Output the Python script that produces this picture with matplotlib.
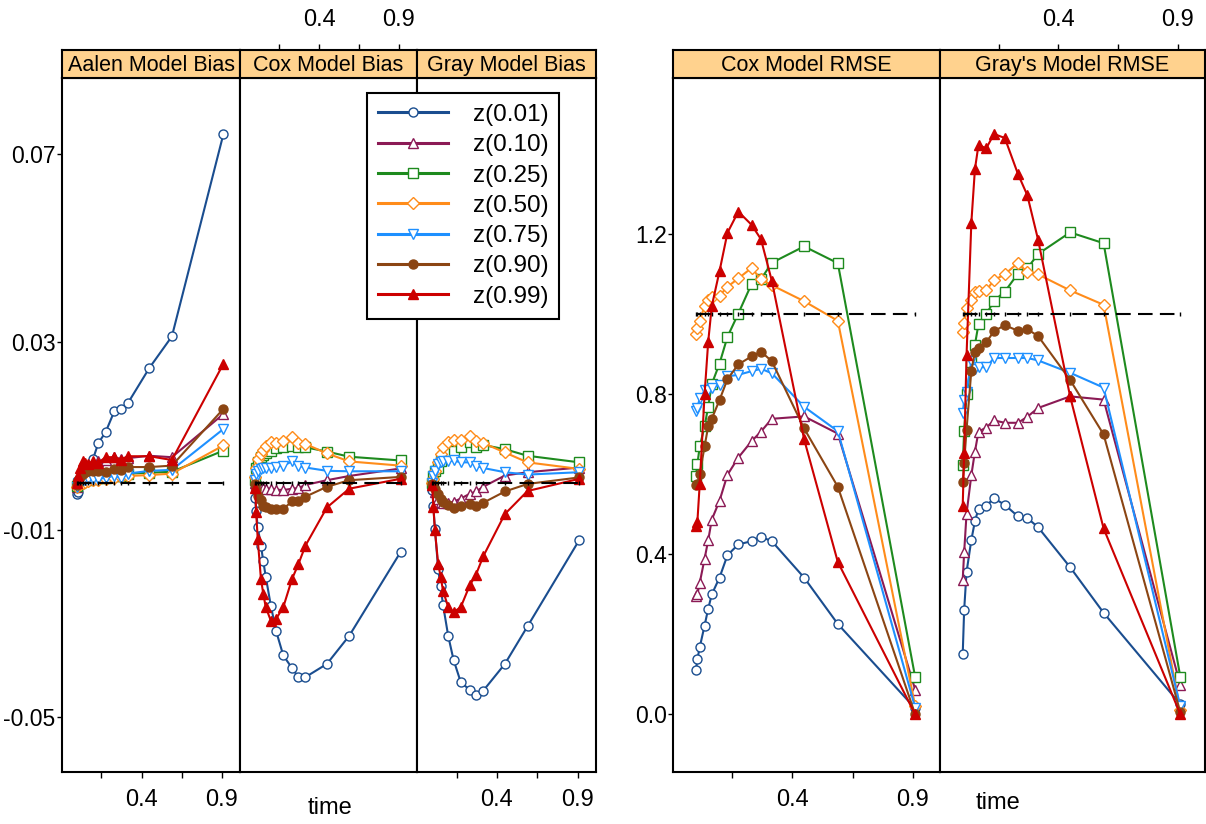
import numpy as np
import matplotlib
matplotlib.use('Agg')
import matplotlib.pyplot as plt
from matplotlib.lines import Line2D

plt.rcParams['font.family'] = ['Liberation Sans', 'DejaVu Sans']

W, H = 1206, 824

# time grid shared by every panel
time = [0.0, 0.006, 0.016, 0.036, 0.051, 0.066, 0.098, 0.131, 0.176, 0.231, 0.27, 0.315, 0.449, 0.589, 0.91]

labels = ['z(0.01)', 'z(0.10)', 'z(0.25)', 'z(0.50)', 'z(0.75)', 'z(0.90)', 'z(0.99)']
colors = ['#1A4D8F', '#8B1A55', '#1E8A1E', '#FF8C1A', '#1E90FF', '#8B4513', '#CC0000']
markers = ['o', '^', 's', 'D', 'v', 'o', '^']
filled = [False, False, False, False, False, True, True]

# rows: z(0.01), z(0.10), z(0.25), z(0.50), z(0.75), z(0.90), z(0.99)
aalen_bias = [
    [-0.0024, -0.0020, -0.0005, 0.0010, 0.0025, 0.0035, 0.0050, 0.0084, 0.0107, 0.0152, 0.0157, 0.0169, 0.0244, 0.0311, 0.0742],
    [-0.0010, 0.0005, 0.0015, 0.0025, 0.0030, 0.0035, 0.0040, 0.0045, 0.0048, 0.0054, 0.0050, 0.0052, 0.0057, 0.0054, 0.0146],
    [-0.0008, -0.0003, 0.0000, 0.0003, 0.0005, 0.0006, 0.0008, 0.0009, 0.0010, 0.0013, 0.0015, 0.0019, 0.0021, 0.0023, 0.0068],
    [-0.0010, -0.0006, -0.0003, 0.0000, 0.0002, 0.0003, 0.0005, 0.0006, 0.0007, 0.0010, 0.0012, 0.0014, 0.0016, 0.0019, 0.0079],
    [-0.0010, 0.0000, 0.0003, 0.0005, 0.0006, 0.0007, 0.0008, 0.0008, 0.0010, 0.0015, 0.0010, 0.0019, 0.0025, 0.0027, 0.0114],
    [-0.0005, 0.0005, 0.0012, 0.0018, 0.0022, 0.0024, 0.0025, 0.0024, 0.0023, 0.0029, 0.0027, 0.0033, 0.0033, 0.0036, 0.0157],
    [0.0000, 0.0015, 0.0030, 0.0045, 0.0042, 0.0040, 0.0045, 0.0042, 0.0054, 0.0054, 0.0049, 0.0056, 0.0056, 0.0048, 0.0253],
]
cox_bias = [
    [-0.0033, -0.0060, -0.0095, -0.0134, -0.0168, -0.0200, -0.0262, -0.0316, -0.0368, -0.0395, -0.0414, -0.0414, -0.0386, -0.0326, -0.0148],
    [-0.0002, -0.0006, -0.0009, -0.0011, -0.0012, -0.0013, -0.0013, -0.0015, -0.0016, -0.0013, -0.0012, -0.0005, 0.0005, 0.0014, 0.0030],
    [0.0005, 0.0030, 0.0043, 0.0054, 0.0058, 0.0062, 0.0068, 0.0073, 0.0075, 0.0077, 0.0076, 0.0075, 0.0066, 0.0055, 0.0047],
    [0.0011, 0.0030, 0.0050, 0.0061, 0.0069, 0.0078, 0.0086, 0.0084, 0.0088, 0.0096, 0.0084, 0.0082, 0.0062, 0.0045, 0.0036],
    [0.0006, 0.0018, 0.0025, 0.0029, 0.0031, 0.0032, 0.0032, 0.0034, 0.0036, 0.0045, 0.0036, 0.0032, 0.0025, 0.0024, 0.0024],
    [-0.0003, -0.0015, -0.0028, -0.0038, -0.0049, -0.0053, -0.0056, -0.0056, -0.0056, -0.0040, -0.0040, -0.0030, -0.0009, 0.0005, 0.0012],
    [-0.0011, -0.0063, -0.0120, -0.0205, -0.0237, -0.0265, -0.0294, -0.0290, -0.0265, -0.0205, -0.0174, -0.0134, -0.0053, -0.0013, 0.0008],
]
gray_bias = [
    [-0.0015, -0.0049, -0.0099, -0.0184, -0.0221, -0.0260, -0.0326, -0.0377, -0.0425, -0.0441, -0.0452, -0.0443, -0.0386, -0.0306, -0.0122],
    [-0.0002, -0.0006, -0.0020, -0.0034, -0.0041, -0.0044, -0.0044, -0.0041, -0.0034, -0.0024, -0.0019, -0.0009, 0.0015, 0.0022, 0.0032],
    [0.0000, 0.0015, 0.0025, 0.0032, 0.0045, 0.0057, 0.0062, 0.0068, 0.0075, 0.0086, 0.0075, 0.0080, 0.0071, 0.0057, 0.0043],
    [0.0000, 0.0008, 0.0025, 0.0043, 0.0061, 0.0075, 0.0086, 0.0090, 0.0091, 0.0100, 0.0088, 0.0084, 0.0064, 0.0043, 0.0029],
    [0.0000, 0.0015, 0.0025, 0.0040, 0.0043, 0.0045, 0.0045, 0.0047, 0.0043, 0.0043, 0.0036, 0.0031, 0.0022, 0.0017, 0.0022],
    [-0.0003, -0.0008, -0.0014, -0.0024, -0.0034, -0.0041, -0.0048, -0.0054, -0.0050, -0.0045, -0.0050, -0.0043, -0.0019, -0.0003, 0.0011],
    [-0.0005, -0.0051, -0.0102, -0.0173, -0.0200, -0.0230, -0.0265, -0.0276, -0.0265, -0.0219, -0.0196, -0.0157, -0.0067, -0.0018, 0.0008],
]
cox_rmse = [
    [0.110, 0.138, 0.168, 0.222, 0.264, 0.300, 0.342, 0.398, 0.425, 0.433, 0.444, 0.433, 0.342, 0.226, 0.015],
    [0.295, 0.300, 0.329, 0.389, 0.435, 0.487, 0.534, 0.599, 0.642, 0.683, 0.707, 0.739, 0.745, 0.702, 0.062],
    [0.596, 0.625, 0.670, 0.720, 0.769, 0.826, 0.877, 0.944, 1.002, 1.076, 1.088, 1.129, 1.170, 1.128, 0.093],
    [0.952, 0.967, 0.984, 1.021, 1.036, 1.043, 1.047, 1.069, 1.090, 1.116, 1.088, 1.073, 1.033, 0.984, 0.021],
    [0.758, 0.767, 0.790, 0.810, 0.812, 0.817, 0.823, 0.845, 0.849, 0.858, 0.864, 0.853, 0.769, 0.708, 0.017],
    [0.573, 0.577, 0.600, 0.670, 0.720, 0.739, 0.786, 0.838, 0.875, 0.895, 0.907, 0.883, 0.715, 0.569, 0.000],
    [0.470, 0.480, 0.577, 0.800, 0.931, 1.021, 1.108, 1.204, 1.257, 1.224, 1.188, 1.084, 0.688, 0.381, 0.000],
]
gray_rmse = [
    [0.151, 0.261, 0.356, 0.436, 0.483, 0.514, 0.522, 0.540, 0.524, 0.495, 0.491, 0.468, 0.368, 0.254, 0.025],
    [0.337, 0.405, 0.502, 0.598, 0.657, 0.707, 0.717, 0.735, 0.729, 0.729, 0.744, 0.766, 0.795, 0.787, 0.073],
    [0.624, 0.709, 0.800, 0.880, 0.924, 0.976, 1.000, 1.034, 1.057, 1.102, 1.115, 1.151, 1.205, 1.178, 0.093],
    [0.956, 0.978, 1.015, 1.037, 1.055, 1.058, 1.060, 1.086, 1.100, 1.129, 1.105, 1.100, 1.060, 1.024, 0.010],
    [0.754, 0.785, 0.807, 0.883, 0.863, 0.868, 0.868, 0.891, 0.891, 0.891, 0.891, 0.885, 0.854, 0.817, 0.020],
    [0.581, 0.629, 0.712, 0.859, 0.907, 0.917, 0.930, 0.958, 0.973, 0.959, 0.963, 0.946, 0.836, 0.700, 0.005],
    [0.522, 0.654, 0.898, 1.229, 1.363, 1.424, 1.415, 1.451, 1.441, 1.351, 1.298, 1.187, 0.795, 0.465, 0.000],
]

xticks = [0.15, 0.4, 0.65, 0.9]
xticklabels = ['', '0.4', '', '0.9']
bias_yticks = [-0.05, -0.01, 0.03, 0.07]
bias_yticklabels = ['-0.05', '-0.01', '0.03', '0.07']
rmse_yticks = [0.0, 0.4, 0.8, 1.2]
rmse_yticklabels = ['0.0', '0.4', '0.8', '1.2']
xlim = (-0.095, 1.013)
bias_ylim = (-0.0616, 0.0861)
rmse_ylim = (-0.144, 1.591)
strip_col = '#FFD28E'


def rect(l, t, r, b):
    return [l / W, 1 - b / H, (r - l) / W, (b - t) / H]


fig = plt.figure(figsize=(W / 100, H / 100), dpi=100)

# title, data, left px, right px, ylim, ref line, yticks, ytick labels, x axis side
panels = [
    ('Aalen Model Bias', aalen_bias, 62, 240, bias_ylim, 0.0, bias_yticks, bias_yticklabels, 'bottom'),
    ('Cox Model Bias', cox_bias, 240, 417, bias_ylim, 0.0, None, None, 'top'),
    ('Gray Model Bias', gray_bias, 417, 596, bias_ylim, 0.0, None, None, 'bottom'),
    ('Cox Model RMSE', cox_rmse, 673, 940, rmse_ylim, 1.0, rmse_yticks, rmse_yticklabels, 'bottom'),
    ("Gray's Model RMSE", gray_rmse, 940, 1205, rmse_ylim, 1.0, None, None, 'top'),
]

for title, data, l, r, ylim, ref, yt, ytl, side in panels:
    ax = fig.add_axes(rect(l, 78, r, 772))
    for i in range(7):
        ax.plot(time, data[i], color=colors[i], lw=1.5, marker=markers[i],
                ms=6.5 if markers[i] in ('o', 'D') else 7.5,
                mfc=colors[i] if filled[i] else 'white', mec=colors[i], mew=1.0,
                zorder=2 + i)
    ax.plot(time, [ref] * len(time), color='black', lw=1.5, dashes=(7, 3.5),
            marker='|', ms=3, mew=1, zorder=20)
    ax.set_xlim(xlim)
    ax.set_ylim(ylim)
    for s in ax.spines.values():
        s.set_linewidth(1.5)
    if yt is not None:
        ax.set_yticks(yt)
        ax.set_yticklabels(ytl)
        ax.tick_params(axis='y', direction='out', length=3.5, width=1, pad=1, labelsize=16.5)
    else:
        ax.set_yticks([])

    st = fig.add_axes(rect(l, 50, r, 78))
    st.set_facecolor(strip_col)
    st.set_xlim(xlim)
    st.set_yticks([])
    for s in st.spines.values():
        s.set_linewidth(1.5)
    st.text(0.5, 0.45, title, transform=st.transAxes, ha='center', va='center', fontsize=15.5)

    if side == 'bottom':
        ax.set_xticks(xticks)
        ax.set_xticklabels(xticklabels)
        ax.tick_params(axis='x', direction='out', length=4.5, width=1, pad=8, labelsize=17)
        st.set_xticks([])
    else:
        ax.set_xticks([])
        st.xaxis.tick_top()
        st.set_xticks(xticks)
        st.set_xticklabels(xticklabels)
        st.tick_params(axis='x', direction='out', length=4.5, width=1, pad=9, labelsize=17)

fig.text(330 / W, 1 - 808 / H, 'time', ha='center', va='center', fontsize=17)
fig.text(998 / W, 1 - 803 / H, 'time', ha='center', va='center', fontsize=17)

handles = [Line2D([], [], color=colors[i], lw=2.2, marker=markers[i],
                  ms=6.5 if markers[i] in ('o', 'D') else 7.5,
                  mfc=colors[i] if filled[i] else 'white', mec=colors[i], mew=1.0)
           for i in range(7)]
leg = fig.legend(handles, labels, loc='upper left', bbox_to_anchor=(367 / W, 1 - 93 / H),
                 frameon=True, fancybox=False, edgecolor='black', framealpha=1,
                 fontsize=17.5, handlelength=2.9, handletextpad=1.0, labelspacing=0.34,
                 borderpad=0.45, borderaxespad=0)
leg.get_frame().set_linewidth(1.5)

fig.savefig('out.png', dpi=100)
